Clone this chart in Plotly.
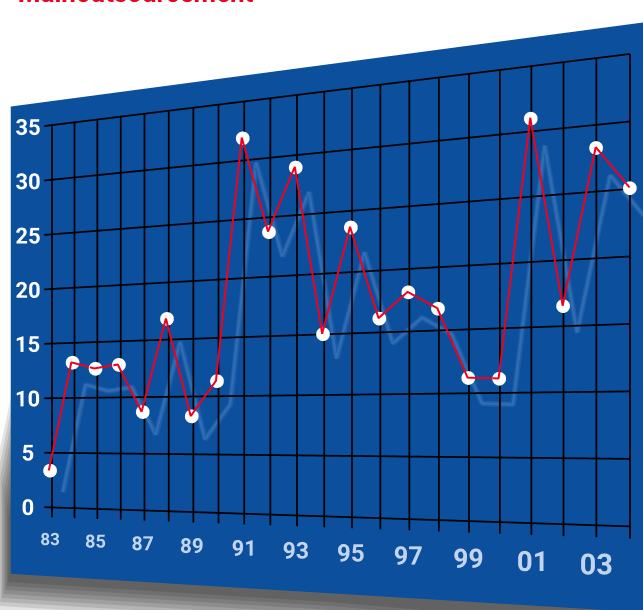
import plotly.graph_objects as go

# ---------------- data ----------------
years = list(range(1983, 2005))
values = [3.4, 13.2, 12.6, 12.9, 8.7, 16.8, 8.3, 11.3, 31.8, 23.7, 28.9,
          15.0, 23.6, 16.1, 18.1, 16.7, 11.2, 11.1, 30.9, 16.5, 28.2, 25.0]
x_tick_years = [1983, 1985, 1987, 1989, 1991, 1993, 1995, 1997, 1999, 2001, 2003]
x_tick_text = ["83", "85", "87", "89", "91", "93", "95", "97", "99", "01", "03"]
y_ticks = [0, 5, 10, 15, 20, 25, 30, 35]
y_tick_text = ["0", "5", "10", "15", "20", "25", "30", "35"]

# ---------------- style / geometry ----------------
BLUE = "#0b4f9d"
RED = "#f0001e"
W, H = 643, 854
XR = [1980.95, 2005.5]
ZR = [-6.4, 37.4]
ASP = dict(x=1.337 * (XR[1] - XR[0]) / 24.2, y=0.03, z=1.0)
FONT = "Roboto"
# depth layers (0 = front, 1 = panel background)
Y_LINE, Y_MARK, Y_TEXT, Y_GRID, Y_GLOW = 0.22, 0.35, 0.35, 0.6, 0.8
SHIFT = (1993.4 - (XR[0] + XR[1]) / 2) / 24.2 * 1.337

fig = go.Figure()

# soft glow / shadow of the series (behind the grid)
fig.add_trace(go.Scatter3d(x=[y + 0.4 for y in years], y=[Y_GLOW + 0.05] * len(years),
                           z=[v - 2.0 for v in values], mode="lines",
                           line=dict(color="#1d5da6", width=11),
                           hoverinfo="skip", showlegend=False))
fig.add_trace(go.Scatter3d(x=[y + 0.4 for y in years], y=[Y_GLOW] * len(years),
                           z=[v - 2.0 for v in values], mode="lines",
                           line=dict(color="#2f6cb3", width=5),
                           hoverinfo="skip", showlegend=False))

# grid (drawn from tick arrays)
gx, gy, gz = [], [], []
for yr in years:
    gx += [yr, yr, None]
    gy += [Y_GRID, Y_GRID, None]
    gz += [y_ticks[-1], -0.9, None]
for v in y_ticks:
    gx += [years[0] - 0.35, years[-1], None]
    gy += [Y_GRID, Y_GRID, None]
    gz += [v, v, None]
fig.add_trace(go.Scatter3d(x=gx, y=gy, z=gz, mode="lines",
                           line=dict(color="#000000", width=3.5),
                           hoverinfo="skip", showlegend=False))

# markers
fig.add_trace(go.Scatter3d(x=years, y=[Y_MARK] * len(years), z=values, mode="markers",
                           marker=dict(color="white", size=8, line=dict(width=0)),
                           hoverinfo="skip", showlegend=False))
# red line
fig.add_trace(go.Scatter3d(x=years, y=[Y_LINE] * len(years), z=values, mode="lines",
                           line=dict(color=RED, width=4),
                           hoverinfo="skip", showlegend=False))

# value labels
fig.add_trace(go.Scatter3d(x=[1982.0] * len(y_ticks), y=[Y_TEXT] * len(y_ticks), z=y_ticks,
                           mode="text", text=y_tick_text, textposition="middle center",
                           textfont=dict(color="white", size=22, family=FONT, weight="bold"),
                           hoverinfo="skip", showlegend=False))
# year labels (size grows with perspective)
x_sizes = [17 + 0.6 * (y - 1983) for y in x_tick_years]
fig.add_trace(go.Scatter3d(x=x_tick_years, y=[Y_TEXT] * len(x_tick_years),
                           z=[-2.85] * len(x_tick_years),
                           mode="text", text=x_tick_text, textposition="middle center",
                           textfont=dict(color="#c3d5ee", size=x_sizes, family=FONT,
                                         weight="bold"),
                           hoverinfo="skip", showlegend=False))

# drop shadow of the panel (outside the panel only; panel canvas covers the rest)
def px(x, y):
    return x / W, 1 - y / H

shapes = []
for k in range(1, 9):
    w = 4 * k
    pts = [(16, 470 - 3 * w), (10 - 0.4 * w, 525 - 2 * w), (10 - 0.4 * w, 578 + w),
           (330, 598 + w), (640, 625 + w), (640, 560), (16, 560)]
    path = "M " + " L ".join("%.5f,%.5f" % px(a, b) for a, b in pts) + " Z"
    shapes.append(dict(type="path", path=path, xref="paper", yref="paper",
                       fillcolor="black", opacity=0.11, line=dict(width=0),
                       layer="below"))

ax_common = dict(showgrid=False, zeroline=False, showline=False, showticklabels=False,
                 ticks="", showspikes=False, title=dict(text=""), autorange=False)
fig.update_layout(
    width=W, height=H,
    margin=dict(l=0, r=0, t=0, b=0),
    paper_bgcolor="white",
    showlegend=False,
    shapes=shapes,
    scene=dict(
        domain=dict(x=[0, 1], y=[0, 1]),
        xaxis=dict(range=XR, showbackground=False, **ax_common),
        yaxis=dict(range=[0, 1], showbackground=True, backgroundcolor=BLUE, **ax_common),
        zaxis=dict(range=ZR, showbackground=False, **ax_common),
        aspectmode="manual", aspectratio=ASP,
        camera=dict(center=dict(x=0.0304 + SHIFT, y=-0.0045, z=-0.1858),
                    eye=dict(x=0.715 + SHIFT, y=-1.8125, z=-0.186),
                    up=dict(x=0, y=0, z=1),
                    projection=dict(type="perspective")),
        hovermode=False,
        bgcolor="rgba(0,0,0,0)",
    ),
    annotations=[dict(text="• Mainoutsourcement", xref="paper", yref="paper",
                      x=0.0, y=1 - 10 / H, xanchor="left", yanchor="bottom",
                      showarrow=False,
                      font=dict(color=RED, size=26, family="Roboto", weight="bold"))],
)

fig.write_html("out.html", config={"displayModeBar": False},
               post_script="document.body.style.margin='0';document.body.style.overflow='hidden';")
